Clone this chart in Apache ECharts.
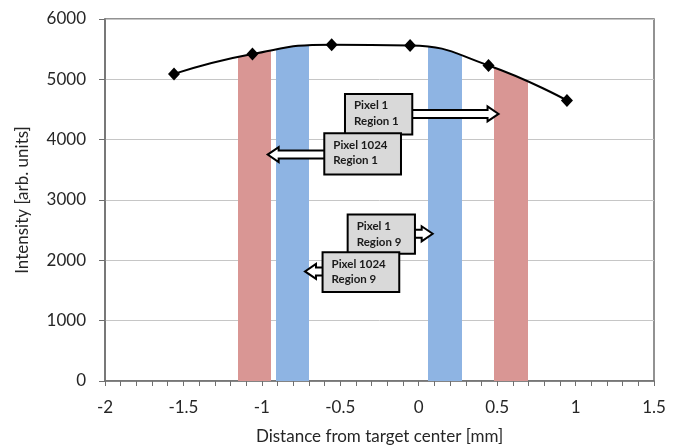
<!DOCTYPE html>
<html>
<head>
<meta charset="utf-8">
<script src="https://cdn.jsdelivr.net/npm/echarts@6/dist/echarts.min.js"></script>
<style>html,body{margin:0;padding:0;background:#fff}#c{width:682px;height:446px}</style>
</head>
<body>
<div id="c"></div>
<script>
// Measured intensity profile
const posX = [-1.56, -1.06, -0.555, -0.055, 0.445, 0.945];
const intensity = [5090, 5420, 5575, 5560, 5230, 4650];

// Shaded pixel bands (x range), filled under the intensity curve
const bandX0 = [-1.15, -0.91, 0.06, 0.48];
const bandX1 = [-0.94, -0.70, 0.275, 0.695];
const bandKind = ['red', 'blue', 'blue', 'red'];

// Annotation callouts
const annoLine1 = ['Pixel 1', 'Pixel 1024', 'Pixel 1', 'Pixel 1024'];
const annoLine2 = ['Region 1', 'Region 1', 'Region 9', 'Region 9'];
const annoBoxX0 = [-0.47, -0.602, -0.453, -0.613];
const annoBoxX1 = [-0.041, -0.113, -0.024, -0.124];
const annoBoxTop = [4758, 4106, 2760, 2136];
const annoBoxBot = [4084, 3422, 2109, 1474];
const annoTipX = [0.509, -0.963, 0.089, -0.725];
const annoTipY = [4427, 3753, 2440, 1816];

const xTicks = { min: -2, max: 1.5, interval: 0.5 };
const yTicks = { min: 0, max: 6000, interval: 1000 };

const bandColors = { red: '#D99694', blue: '#8EB4E3' };
const FONT = 'Lato';

const chart = echarts.init(document.getElementById('c'), null, { renderer: 'canvas' });

const curveData = posX.map((x, i) => [x, intensity[i]]);
const annoData = annoBoxX0.map((x0, i) => [x0, annoBoxX1[i], annoBoxTop[i], annoBoxBot[i], annoTipX[i], annoTipY[i], i]);

chart.setOption({
  animation: false,
  backgroundColor: '#fff',
  grid: {
    left: 105, right: 28, top: 19, bottom: 65,
    containLabel: false, outerBoundsMode: 'none',
    show: true, borderColor: '#6f6f6f', borderWidth: 1.5, backgroundColor: 'transparent'
  },
  visualMap: {
    type: 'piecewise',
    show: false,
    dimension: 0,
    seriesIndex: 0,
    pieces: bandX0.map((x0, i) => ({ gte: x0, lt: bandX1[i], color: bandColors[bandKind[i]] })),
    outOfRange: { color: 'rgba(255,255,255,0)' }
  },
  xAxis: {
    type: 'value',
    min: xTicks.min, max: xTicks.max, interval: xTicks.interval,
    name: 'Distance from target center [mm]',
    nameLocation: 'middle', nameGap: 47,
    nameTextStyle: { fontFamily: FONT, fontSize: 17, color: '#262626' },
    axisLine: { show: true, onZero: false, lineStyle: { color: '#6f6f6f', width: 1.5 } },
    axisTick: { show: true, length: 5, lineStyle: { color: '#6f6f6f', width: 1 } },
    minorTick: { show: true, splitNumber: 5, length: 5, lineStyle: { color: '#6f6f6f', width: 1 } },
    splitLine: { show: false },
    axisLabel: { fontFamily: FONT, fontSize: 17, color: '#262626', margin: 18 }
  },
  yAxis: {
    type: 'value',
    min: yTicks.min, max: yTicks.max, interval: yTicks.interval,
    name: 'Intensity [arb. units]',
    nameLocation: 'middle', nameGap: 74,
    nameTextStyle: { fontFamily: FONT, fontSize: 17, color: '#262626' },
    axisLine: { show: true, onZero: false, lineStyle: { color: '#6f6f6f', width: 1.5 } },
    axisTick: { show: true, length: 6, lineStyle: { color: '#6f6f6f', width: 1 } },
    splitLine: { show: true, lineStyle: { color: '#c6c6c6', width: 1 } },
    axisLabel: { fontFamily: FONT, fontSize: 17, color: '#262626', margin: 19, formatter: v => String(v) }
  },
  series: [
    {
      // band fills under the curve
      type: 'line',
      z: 1,
      data: curveData,
      smooth: 0.5,
      symbol: 'none',
      silent: true,
      lineStyle: { width: 0, opacity: 0 },
      areaStyle: { opacity: 1 }
    },
    {
      type: 'line',
      z: 3,
      data: curveData,
      smooth: 0.5,
      symbol: 'diamond',
      symbolSize: [12, 13],
      showSymbol: true,
      itemStyle: { color: '#000' },
      lineStyle: { color: '#000', width: 2 }
    },
    {
      type: 'custom',
      z: 5,
      data: annoData,
      encode: { x: [0, 1, 4], y: [2, 3, 5] },
      renderItem: function (params, api) {
        const i = api.value(6);
        const tl = api.coord([api.value(0), api.value(2)]);
        const br = api.coord([api.value(1), api.value(3)]);
        const tip = api.coord([api.value(4), api.value(5)]);
        const right = tip[0] > br[0];
        const ay = tip[1];
        const sh = 4, hh = 7.5, hl = 11;
        let pts;
        if (right) {
          const bx = br[0] - 2, hx = tip[0] - hl;
          pts = [[bx, ay - sh], [hx, ay - sh], [hx, ay - hh], [tip[0], ay], [hx, ay + hh], [hx, ay + sh], [bx, ay + sh]];
        } else {
          const bx = tl[0] + 2, hx = tip[0] + hl;
          pts = [[bx, ay - sh], [hx, ay - sh], [hx, ay - hh], [tip[0], ay], [hx, ay + hh], [hx, ay + sh], [bx, ay + sh]];
        }
        return {
          type: 'group',
          children: [
            {
              type: 'polygon',
              shape: { points: pts },
              style: { fill: '#fff', stroke: '#000', lineWidth: 2, lineJoin: 'miter' }
            },
            {
              type: 'rect',
              shape: { x: tl[0], y: tl[1], width: br[0] - tl[0], height: br[1] - tl[1] },
              style: { fill: '#d9d9d9', stroke: '#000', lineWidth: 2 }
            },
            {
              type: 'text',
              x: tl[0] + 9,
              y: tl[1] + 4,
              style: {
                text: annoLine1[i] + '\n' + annoLine2[i],
                fontFamily: FONT, fontWeight: 'bold', fontSize: 11.5,
                lineHeight: 15.6, fill: '#1a1a1a',
                align: 'left', verticalAlign: 'top'
              }
            }
          ]
        };
      }
    }
  ]
});
</script>
</body>
</html>
